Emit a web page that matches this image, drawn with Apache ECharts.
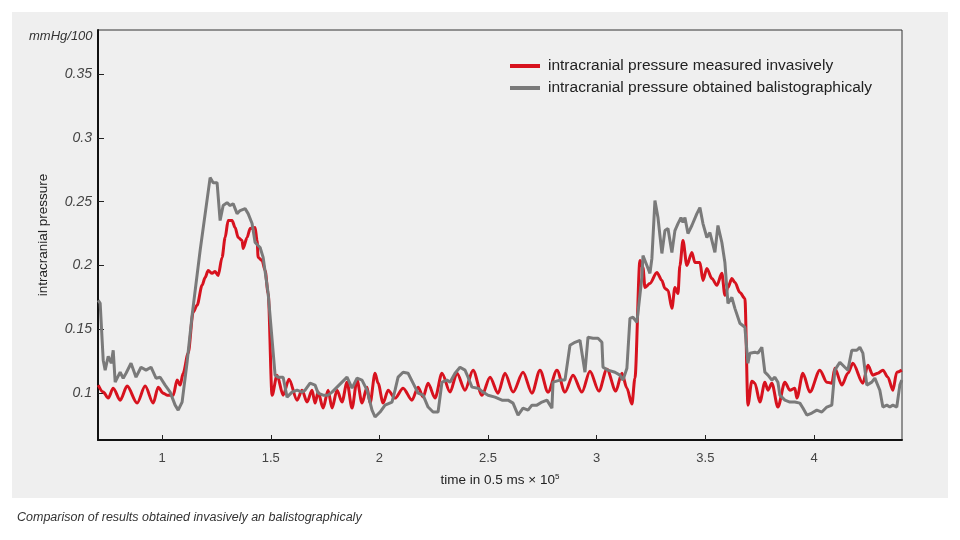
<!DOCTYPE html>
<html>
<head>
<meta charset="utf-8">
<script src="https://cdn.jsdelivr.net/npm/echarts@6/dist/echarts.min.js"></script>
<style>
  html, body { margin: 0; padding: 0; background: #ffffff; }
  #panel { position: absolute; left: 12px; top: 12px; width: 936px; height: 486px; background: #efefef; }
  #chart { position: absolute; left: 0; top: 0; width: 960px; height: 540px; }
</style>
</head>
<body>
<div id="panel"></div>
<div id="chart"></div>
<script>
// ---- data ----
const seriesNames = ['intracranial pressure measured invasively', 'intracranial pressure obtained balistographicaly'];
const xTickValues = [1, 1.5, 2, 2.5, 3, 3.5, 4];
const yTickValues = [0.1, 0.15, 0.2, 0.25, 0.3, 0.35];

const redTime = [0.706,0.729,0.752,0.775,0.807,0.839,0.885,0.922,0.959,0.982,
1.005,1.023,1.051,1.069,1.083,1.097,1.120,1.143,1.161,1.184,
1.198,1.212,1.230,1.244,1.258,1.276,1.290,1.304,1.322,1.336,
1.350,1.368,1.373,1.391,1.405,1.428,1.437,1.442,1.460,1.474,
1.488,1.506,1.529,1.557,1.584,1.621,1.644,1.667,1.690,1.704,
1.718,1.741,1.764,1.782,1.805,1.828,1.851,1.874,1.897,1.920,
1.943,1.957,1.980,1.994,2.017,2.040,2.072,2.109,2.150,2.178,
2.201,2.224,2.256,2.288,2.325,2.357,2.394,2.431,2.472,2.509,
2.546,2.578,2.615,2.661,2.702,2.739,2.776,2.817,2.854,2.891,
2.932,2.969,3.010,3.047,3.088,3.116,3.139,3.162,3.176,3.199,
3.213,3.222,3.245,3.277,3.300,3.314,3.328,3.346,3.360,3.374,
3.383,3.397,3.415,3.438,3.452,3.475,3.489,3.507,3.530,3.553,
3.576,3.590,3.604,3.622,3.636,3.659,3.682,3.696,3.714,3.728,
3.751,3.774,3.788,3.806,3.834,3.866,3.889,3.912,3.921,3.949,
3.981,4.027,4.059,4.082,4.096,4.128,4.156,4.179,4.225,4.248,
4.271,4.294,4.317,4.340,4.363,4.381,4.404];
const redValue = [0.1063,0.1008,0.0961,0.1039,0.0945,0.1055,0.0922,0.1055,0.0922,0.1047,
0.1000,0.0984,0.0984,0.1102,0.1063,0.1156,0.1313,0.1633,0.1688,0.1844,
0.1906,0.1961,0.1938,0.1953,0.1922,0.2063,0.2219,0.2352,0.2352,0.2297,
0.2219,0.2195,0.2133,0.2219,0.2289,0.2297,0.2195,0.2063,0.2039,0.1961,
0.1781,0.0984,0.1141,0.0984,0.1109,0.0945,0.1023,0.0930,0.1023,0.0922,
0.1008,0.0883,0.1023,0.0883,0.1023,0.0930,0.1086,0.0883,0.1102,0.0922,
0.1047,0.0922,0.1156,0.1078,0.0922,0.1023,0.0961,0.1039,0.0945,0.1047,
0.0969,0.1078,0.0961,0.1156,0.1008,0.1156,0.1023,0.1180,0.0984,0.1125,
0.1000,0.1156,0.1008,0.1164,0.1000,0.1180,0.1008,0.1180,0.1008,0.1141,
0.1008,0.1172,0.1016,0.1188,0.1016,0.1156,0.1039,0.0914,0.1117,0.2039,
0.1984,0.1828,0.1859,0.1945,0.1883,0.1820,0.1805,0.1664,0.1828,0.1781,
0.2000,0.2195,0.2000,0.2102,0.2023,0.2023,0.1883,0.1977,0.1898,0.1844,
0.1938,0.1766,0.1828,0.1898,0.1867,0.1789,0.1742,0.0906,0.1094,0.1078,
0.0930,0.1086,0.1023,0.1078,0.0891,0.1086,0.1023,0.1039,0.0961,0.1156,
0.1008,0.1180,0.1086,0.1078,0.1195,0.1063,0.1156,0.1234,0.1078,0.1219,
0.1141,0.1156,0.1180,0.1125,0.1023,0.1164,0.1180];

const grayTime = [0.706,0.715,0.729,0.738,0.752,0.766,0.775,0.784,0.807,0.821,
0.834,0.857,0.880,0.903,0.926,0.949,0.972,0.991,1.014,1.037,
1.060,1.074,1.092,1.115,1.138,1.175,1.221,1.235,1.253,1.267,
1.281,1.299,1.313,1.327,1.345,1.359,1.382,1.396,1.414,1.428,
1.451,1.465,1.488,1.520,1.534,1.557,1.575,1.598,1.621,1.644,
1.658,1.681,1.704,1.718,1.741,1.764,1.782,1.805,1.828,1.851,
1.874,1.897,1.920,1.943,1.966,1.980,2.003,2.026,2.058,2.072,
2.086,2.109,2.132,2.155,2.178,2.201,2.224,2.247,2.270,2.288,
2.311,2.325,2.348,2.371,2.394,2.408,2.426,2.454,2.477,2.500,
2.532,2.564,2.592,2.615,2.638,2.661,2.684,2.702,2.725,2.748,
2.771,2.794,2.799,2.831,2.854,2.877,2.900,2.923,2.946,2.960,
2.983,3.006,3.024,3.029,3.052,3.084,3.107,3.121,3.139,3.153,
3.167,3.185,3.190,3.208,3.213,3.231,3.245,3.254,3.268,3.282,
3.300,3.314,3.328,3.346,3.360,3.374,3.388,3.397,3.406,3.420,
3.438,3.461,3.475,3.489,3.507,3.521,3.544,3.558,3.576,3.590,
3.604,3.622,3.636,3.659,3.682,3.696,3.705,3.728,3.742,3.760,
3.774,3.788,3.806,3.820,3.834,3.843,3.866,3.889,3.912,3.935,
3.949,3.967,3.990,4.013,4.036,4.059,4.082,4.096,4.119,4.142,
4.156,4.174,4.197,4.211,4.225,4.243,4.266,4.280,4.303,4.317,
4.335,4.349,4.363,4.381,4.395,4.404];
const grayValue = [0.1727,0.1703,0.1258,0.1180,0.1289,0.1234,0.1336,0.1086,0.1164,0.1117,
0.1156,0.1234,0.1125,0.1203,0.1180,0.1203,0.1117,0.1125,0.1063,0.1008,
0.0906,0.0867,0.0930,0.1242,0.1609,0.2117,0.2688,0.2648,0.2648,0.2352,
0.2469,0.2492,0.2469,0.2484,0.2406,0.2430,0.2445,0.2406,0.2328,0.2180,
0.2141,0.2063,0.1781,0.1141,0.1125,0.1125,0.0969,0.1008,0.1023,0.1008,
0.1023,0.1078,0.1063,0.1000,0.0984,0.0984,0.1008,0.1047,0.1086,0.1125,
0.1039,0.1117,0.1102,0.1023,0.0867,0.0813,0.0852,0.0906,0.0930,0.1023,
0.1125,0.1164,0.1156,0.1078,0.1000,0.0984,0.0891,0.0852,0.0852,0.1086,
0.1102,0.1086,0.1156,0.1203,0.1180,0.1125,0.1047,0.1039,0.1008,0.0984,
0.0969,0.0945,0.0945,0.0922,0.0828,0.0883,0.0867,0.0906,0.0906,0.0930,
0.0945,0.0883,0.1086,0.1102,0.1102,0.1375,0.1398,0.1414,0.1164,0.1438,
0.1430,0.1430,0.1398,0.1203,0.1180,0.1164,0.1141,0.1102,0.1195,0.1586,
0.1594,0.1555,0.1547,0.1906,0.2078,0.2000,0.1938,0.2055,0.2508,0.2375,
0.2094,0.2273,0.2289,0.2102,0.2273,0.2328,0.2375,0.2336,0.2375,0.2250,
0.2313,0.2406,0.2453,0.2328,0.2219,0.2258,0.2102,0.2313,0.2180,0.2023,
0.1703,0.1750,0.1664,0.1547,0.1516,0.1234,0.1313,0.1320,0.1313,0.1359,
0.1164,0.1141,0.1102,0.1125,0.1086,0.0984,0.0945,0.0930,0.0930,0.0922,
0.0883,0.0828,0.0844,0.0867,0.0852,0.0891,0.0906,0.1180,0.1242,0.1203,
0.1180,0.1336,0.1336,0.1359,0.1313,0.1063,0.1086,0.1117,0.1023,0.0891,
0.0906,0.0891,0.0906,0.0891,0.1063,0.1102];

function zip(xs, ys) {
  const n = Math.min(xs.length, ys.length);
  const out = [];
  for (let i = 0; i < n; i++) out.push([xs[i], ys[i]]);
  return out;
}

const chart = echarts.init(document.getElementById('chart'), null, { renderer: 'canvas' });
const labelFont = 'Liberation Sans';

chart.setOption({
  animation: false,
  backgroundColor: 'transparent',
  color: ['#d7121e', '#7a7a7a'],
  grid: {
    left: 98, right: 58, top: 30, bottom: 100,
    show: true, borderColor: '#333', borderWidth: 1, backgroundColor: 'transparent'
  },
  legend: {
    orient: 'vertical',
    left: 505, top: 53,
    itemWidth: 30, itemHeight: 4, itemGap: 6,
    icon: 'rect',
    textStyle: { fontFamily: labelFont, fontSize: 15.5, color: '#222', padding: [0, 0, 0, 3] },
    data: seriesNames
  },
  title: {
    text: 'Comparison of results obtained invasively an balistographicaly',
    left: 12, top: 506,
    textStyle: { fontFamily: labelFont, fontSize: 12.5, fontStyle: 'italic', fontWeight: 'normal', color: '#333' }
  },
  graphic: [{
    type: 'text', left: 29, top: 30,
    style: { text: 'mmHg/100', fontFamily: labelFont, fontSize: 13, fontStyle: 'italic', fill: '#333' }
  }],
  xAxis: {
    type: 'value', min: 0.705, max: 4.405,
    name: '{a|time in 0.5 ms}{b| × 10}{s|5}',
    nameLocation: 'middle', nameGap: 33,
    nameTextStyle: {
      rich: {
        a: { fontFamily: labelFont, fontSize: 13.5, color: '#222' },
        b: { fontFamily: labelFont, fontSize: 13.5, color: '#222' },
        s: { fontFamily: labelFont, fontSize: 8, color: '#222', verticalAlign: 'top', padding: [0, 0, 6, 0] }
      }
    },
    axisLine: { show: true, onZero: false, lineStyle: { color: '#111', width: 2 } },
    axisTick: { show: true, inside: true, length: 5, customValues: xTickValues, lineStyle: { color: '#222' } },
    axisLabel: { customValues: xTickValues, margin: 12, fontFamily: labelFont, fontSize: 13, color: '#444' },
    splitLine: { show: false }
  },
  yAxis: {
    type: 'value', min: 0.0633, max: 0.3844,
    name: 'intracranial pressure',
    nameLocation: 'middle', nameGap: 48,
    nameTextStyle: { fontFamily: labelFont, fontSize: 13.5, color: '#222' },
    axisLine: { show: true, onZero: false, lineStyle: { color: '#111', width: 2 } },
    axisTick: { show: true, inside: true, length: 6, customValues: yTickValues, lineStyle: { color: '#222' } },
    axisLabel: { customValues: yTickValues, margin: 6, fontFamily: labelFont, fontSize: 14, fontStyle: 'italic', color: '#444',
      formatter: function (v) { return String(Math.round(v * 100) / 100); } },
    splitLine: { show: false }
  },
  series: [
    {
      name: seriesNames[0], type: 'line', data: zip(redTime, redValue),
      showSymbol: false, smooth: 0.3, smoothMonotone: 'x',
      lineStyle: { width: 3, color: '#d7121e' }, itemStyle: { color: '#d7121e' }
    },
    {
      name: seriesNames[1], type: 'line', data: zip(grayTime, grayValue),
      showSymbol: false,
      lineStyle: { width: 3, color: '#7a7a7a' }, itemStyle: { color: '#7a7a7a' }
    }
  ]
});
</script>
</body>
</html>
